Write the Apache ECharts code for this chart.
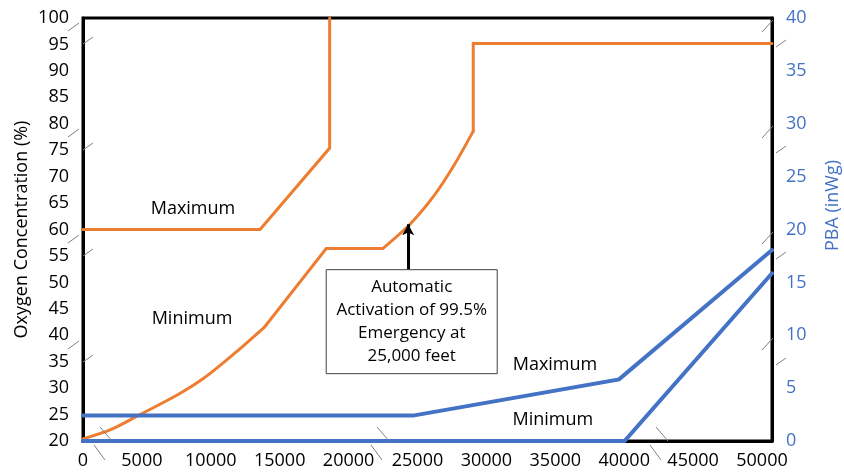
<!DOCTYPE html>
<html><head><meta charset="utf-8">
<script src="https://cdn.jsdelivr.net/npm/echarts@6/dist/echarts.min.js"></script>
<style>html,body{margin:0;padding:0;background:#fff}#c{width:844px;height:476px}</style>
</head><body><div id="c"></div>
<script>
// ---- data (altitude in feet, oxygen %, PBA inWg) ----
const oxygenMax = [[0,60],[12850,60],[17900,75.4],[17900,100]];
const oxygenMin = [[0,20.4],[2050,22.2],[3990,24.8],[6900,28.8],[8830,32.0],[11010,36.6],[13190,41.6],[17650,56.4],[21750,56.4],[23730,61],[25420,66.2],[26870,71.9],[28320,78.6],[28320,95.2],[50000,95.2]];
const pbaMax = [[0,2.4],[23950,2.4],[38900,5.83],[50000,18.06]];
const pbaMin = [[0,0],[39300,0],[50000,15.86]];
const annotationLines = ['Automatic','Activation of 99.5%','Emergency at','25,000 feet'];
const annotationAltitude = 23600;
const seriesLabels = [
  {text:'Maximum', at:[7980,63.9]},
  {text:'Minimum', at:[7910,43.1]},
  {text:'Maximum', at:[34250,34.4]},
  {text:'Minimum', at:[34100,24.0]}
];

(function () {
const ORANGE = '#ED7D31', BLUE = '#4472C4';
const FONT = 'Open Sans';
const chart = echarts.init(document.getElementById('c'));
const lineS = (name, data, axis, color, width, smooth) => ({
  name, type: 'line', data, yAxisIndex: axis, showSymbol: false, symbol: 'none', smooth: smooth || false,
  lineStyle: {color, width, cap: 'round', join: 'miter'}, z: axis ? 4 : 3});
// curved parts of the minimum oxygen curve are drawn smoothed, straight parts as segments
const minCurveA = oxygenMin.slice(0, 7), minStraight = oxygenMin.slice(6, 9),
      minCurveB = oxygenMin.slice(8, 13), minTail = oxygenMin.slice(12);
const arrowSeries = lineS('Oxygen Min', minCurveA, 0, ORANGE, 3, 0.3);
arrowSeries.markLine = {silent: true, symbol: ['none', 'arrow'], symbolSize: [9, 11], label: {show: false},
  lineStyle: {color: '#000', width: 3, type: 'solid'},
  data: [[{coord: [annotationAltitude, 52.4]}, {coord: [annotationAltitude, 61.0]}]]};
const option = {
  animation: false,
  grid: {left: 83, right: 72, top: 18, bottom: 35, show: true, borderColor: '#000', borderWidth: 3,
         containLabel: false, outerBoundsMode: 'none'},
  xAxis: {
    type: 'value', min: 0, max: 50000, interval: 5000,
    axisLine: {show: true, lineStyle: {color: '#000', width: 3}},
    axisTick: {show: false}, splitLine: {show: false},
    axisLabel: {
      margin: 11, color: '#000', fontFamily: FONT, fontSize: 18,
      showMinLabel: true, showMaxLabel: true,
      formatter: v => v === 0 ? '{z|0}' : '{n|' + v + '}',
      rich: {z: {fontFamily: FONT, fontSize: 18, color: '#000'},
             n: {fontFamily: FONT, fontSize: 18, color: '#000', padding: [0, 20, 0, 0]}}
    }
  },
  yAxis: [{
    type: 'value', min: 20, max: 100, interval: 5, position: 'left',
    name: 'Oxygen Concentration (%)', nameLocation: 'middle', nameGap: 52, nameRotate: 90,
    nameMoveOverlap: false,
    nameTextStyle: {color: '#000', fontFamily: FONT, fontSize: 18},
    axisLine: {show: true, lineStyle: {color: '#000', width: 3}},
    axisTick: {show: false}, splitLine: {show: false},
    axisLabel: {margin: 14, color: '#000', fontFamily: FONT, fontSize: 18}
  }, {
    type: 'value', min: 0, max: 40, interval: 5, position: 'right',
    name: 'PBA (inWg)', nameLocation: 'middle', nameGap: 52, nameRotate: 90,
    nameTextStyle: {color: BLUE, fontFamily: FONT, fontSize: 18, padding: [0, 0, 0, 48]},
    axisLine: {show: true, lineStyle: {color: '#000', width: 3}},
    axisTick: {show: false}, splitLine: {show: false},
    axisLabel: {margin: 14, color: BLUE, fontFamily: FONT, fontSize: 18}
  }],
  series: [
    lineS('Oxygen Max', oxygenMax, 0, ORANGE, 3),
    arrowSeries,
    lineS('Oxygen Min', minStraight, 0, ORANGE, 3),
    lineS('Oxygen Min', minCurveB, 0, ORANGE, 3, 0.3),
    lineS('Oxygen Min', minTail, 0, ORANGE, 3),
    lineS('PBA Max', pbaMax, 1, BLUE, 4),
    lineS('PBA Min', pbaMin, 1, BLUE, 4)
  ]
};
chart.setOption(option);

// ---- annotations / labels placed via the axes ----
const px = d => chart.convertToPixel({xAxisIndex: 0, yAxisIndex: 0}, d);
const g = [];
seriesLabels.forEach(l => {
  const p = px(l.at);
  g.push({type: 'text', x: p[0], y: p[1], z: 10,
    style: {text: l.text, fill: '#000', font: '18px "' + FONT + '"', align: 'center', verticalAlign: 'middle'}});
});
const boxTop = px([annotationAltitude, 52.4]);
const bw = 171, bh = 104;
g.push({type: 'rect', z: 10, shape: {x: boxTop[0] - 82, y: boxTop[1], width: bw, height: bh},
  style: {fill: '#fff', stroke: '#404040', lineWidth: 1}});
g.push({type: 'text', z: 11, x: boxTop[0] - 82 + bw / 2, y: boxTop[1] + bh / 2,
  style: {text: annotationLines.join('\n'), fill: '#000', font: '17px "' + FONT + '"',
    align: 'center', verticalAlign: 'middle', lineHeight: 23}});
// decorative gray break marks
const deco = [];
[0, 106, 212, 318].forEach(o => {
  deco.push([68, 31 + o, 79, 23 + o], [83, 44 + o, 93, 37 + o], [762, 32 + o, 773, 20 + o], [776, 47 + o, 786, 40 + o]);
});
[0, 277, 556].forEach(o => {
  deco.push([100 + o, 427, 112 + o, 441], [94 + o, 445, 105 + o, 460]);
});
deco.forEach(s => g.push({type: 'line', z: 9, shape: {x1: s[0], y1: s[1], x2: s[2], y2: s[3]},
  style: {stroke: '#808080', lineWidth: 1}}));
chart.setOption({graphic: g});
})();
</script></body></html>
